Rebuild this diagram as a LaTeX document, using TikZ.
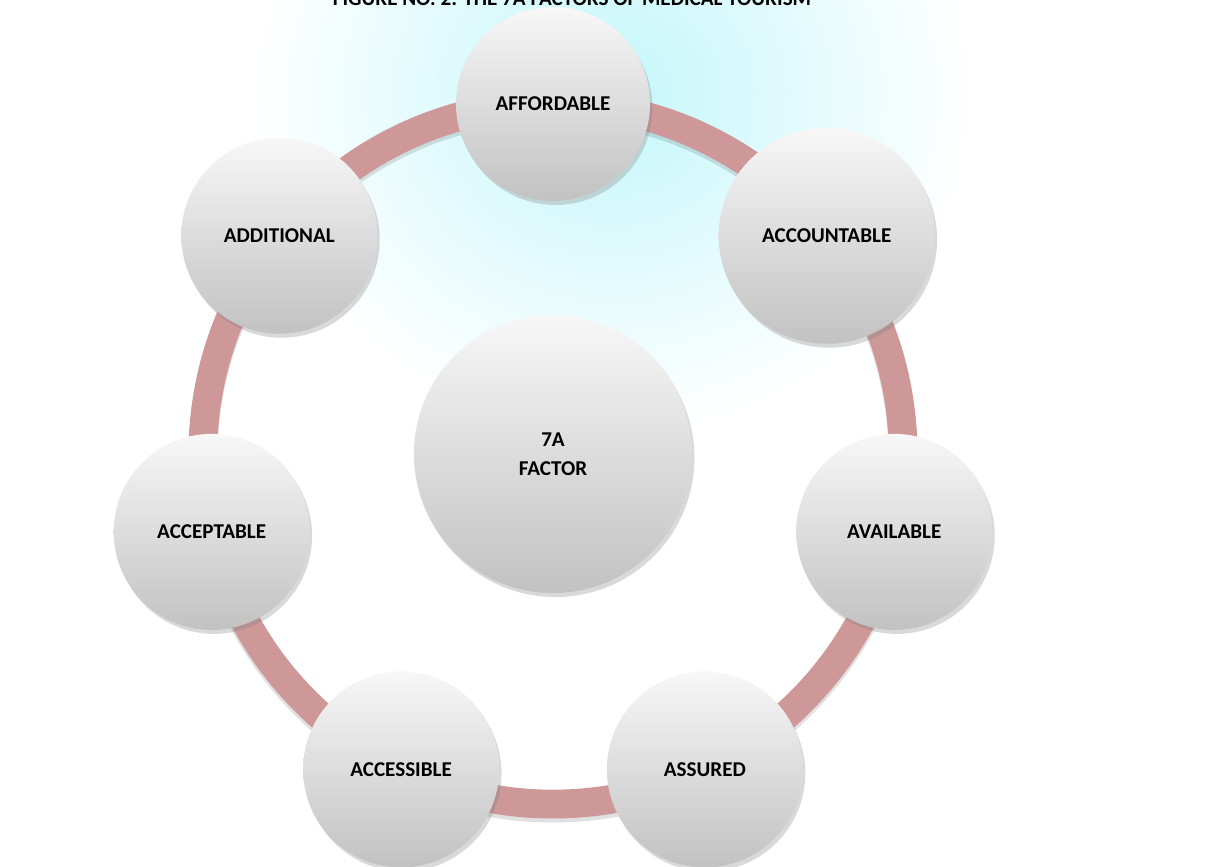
\documentclass[tikz,border=0pt]{standalone}
\usepackage{fontspec}
\setmainfont{Carlito}
\usepackage{tikz}
\usetikzlibrary{shadows}
\usetikzlibrary{positioning}
\usetikzlibrary{fadings}
\usetikzlibrary{calc}

\definecolor{ringred}{RGB}{206,152,152}
\definecolor{wmcyan}{RGB}{196,246,250}
\tikzfading[name=wmfade, inner color=transparent!0, outer color=transparent!100]

\begin{document}
\begin{tikzpicture}[
    ball/.style={circle, inner sep=0pt, align=center,
      top color=white!97!black, bottom color=white!76!black,
      drop shadow={shadow xshift=0.06cm, shadow yshift=-0.1cm, opacity=0.3},
      font=\fontsize{15}{21}\selectfont\bfseries},
    ring/.style={ringred, line width=0.72cm}
  ]

  \def\d{0.025};  % one pixel
  \def\R{8.75};

  \useasboundingbox (-553*\d, 454*\d) rectangle (667*\d, -413*\d);

  %watermark
  \fill[wmcyan, path fading=wmfade] (60*\d, 360*\d) ellipse[x radius=9cm, y radius=8.5cm];

  %title, cut at the top
  \node[font=\fontsize{15}{18}\selectfont\bfseries, anchor=base] (title) at (19*\d, 448*\d)
       {FIGURE NO. 2: THE 7A FACTORS OF MEDICAL TOURISM};

  %ring
  \coordinate (o) at (0,0);
  \draw[ring, black, opacity=0.12] ([yshift=-0.1cm]o) circle[radius=\R];
  \draw[ring] (o) circle[radius=\R];

  %center
  \node[ball, minimum size=6.95cm] (c) at (o) {7A\\FACTOR};

  %the seven A
  \foreach \a/\name/\txt/\s in {90/aff/AFFORDABLE/4.85, 38.571/acc/ACCOUNTABLE/5.4,
                                -12.857/ava/AVAILABLE/4.9, -64.286/ass/ASSURED/4.9,
                                -115.714/acs/ACCESSIBLE/4.9, -167.143/acp/ACCEPTABLE/4.9,
                                141.429/add/ADDITIONAL/4.9}{
      \node[ball, minimum size=\s cm] (\name) at (\a:\R) {\txt};
  }

\end{tikzpicture}
\end{document}
